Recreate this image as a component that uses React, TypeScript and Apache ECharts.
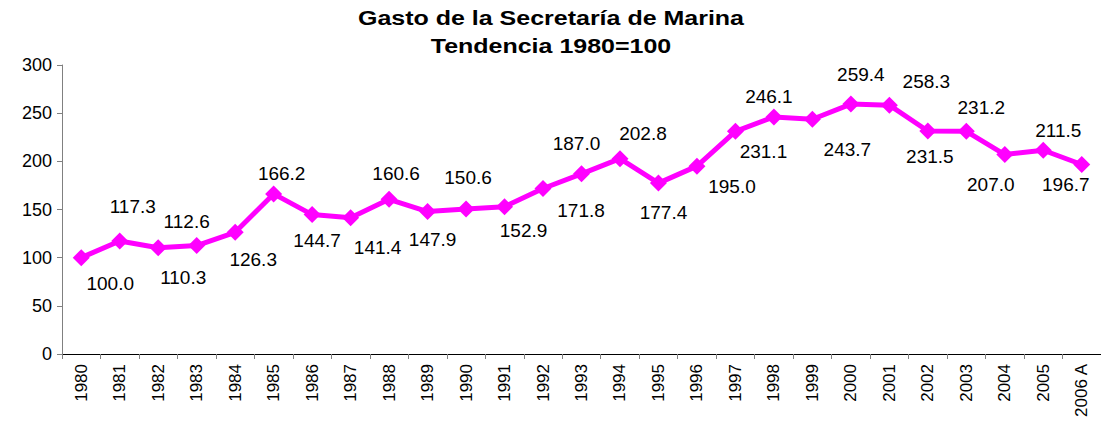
import React, { useEffect, useRef } from "react";
import * as echarts from "echarts";

const titleLines = ["Gasto de la Secretaría de Marina", "Tendencia 1980=100"];
const years = ["1980","1981","1982","1983","1984","1985","1986","1987","1988","1989","1990","1991","1992","1993","1994","1995","1996","1997","1998","1999","2000","2001","2002","2003","2004","2005","2006 A"];
const values = [100.0,117.3,110.3,112.6,126.3,166.2,144.7,141.4,160.6,147.9,150.6,152.9,171.8,187.0,202.8,177.4,195.0,231.1,246.1,243.7,259.4,258.3,231.5,231.2,207.0,211.5,196.7];
// label placement (style): offset of each value label from its marker, in px
const labelOffsets: [number, number][] = [[29,26],[13,-35],[25,30],[-10,-24],[18,27],[8,-20],[5,26],[27,30],[7,-26],[5,28],[2,-31],[19,24],[38,22],[-5,-30],[23,-25],[5,29],[35,20],[28,20],[-5,-20],[35,30],[10,-30],[37,-24],[2,26],[15,-24],[-14,30],[15,-20],[-16,20]];

export default function App() {
  const ref = useRef<HTMLDivElement>(null);
  useEffect(() => {
    const chart = echarts.init(ref.current!, null, { renderer: "svg" });
    const font = "'Liberation Sans', Arial, sans-serif";
    chart.setOption({
      animation: false,
      backgroundColor: "#fff",
      graphic: titleLines.map((t, i) => ({
        type: "text",
        x: 551,
        y: 18 + i * 28,
        scaleX: 1.25,
        style: {
          text: t,
          fill: "#000",
          font: `bold 20px ${font}`,
          textAlign: "center",
          textVerticalAlign: "middle",
        },
      })),
      grid: { left: 62, right: 0, top: 65, bottom: 75, containLabel: false },
      xAxis: {
        type: "category",
        data: years,
        boundaryGap: true,
        axisLine: { lineStyle: { color: "#000", width: 1 } },
        axisTick: { show: true, alignWithLabel: false, length: 5, lineStyle: { color: "#808080" } },
        axisLabel: { rotate: 90, interval: 0, margin: 10, color: "#000", fontFamily: font, fontSize: 17 },
        splitLine: { show: false },
      },
      yAxis: {
        type: "value",
        min: 0,
        max: 300,
        interval: 50,
        axisLine: { show: true, lineStyle: { color: "#808080", width: 1 } },
        axisTick: { show: true, length: 5, lineStyle: { color: "#808080" } },
        axisLabel: { margin: 10, color: "#000", fontFamily: font, fontSize: 18 },
        splitLine: { show: false },
      },
      series: [
        {
          type: "line",
          data: values.map((v, i) => ({
            value: v,
            label: { offset: labelOffsets[i] },
          })),
          symbol: "diamond",
          symbolSize: 17,
          itemStyle: { color: "#FF00FF" },
          lineStyle: { color: "#FF00FF", width: 5 },
          label: {
            show: true,
            position: "inside",
            align: "center",
            verticalAlign: "middle",
            formatter: (p: any) => Number(p.value).toFixed(1),
            color: "#000",
            fontFamily: font,
            fontSize: 19,
          },
        },
      ],
    });
    return () => chart.dispose();
  }, []);
  return (
    <div
      ref={ref}
      style={{ position: "absolute", left: 0, top: 0, width: 1101, height: 429 }}
    />
  );
}
